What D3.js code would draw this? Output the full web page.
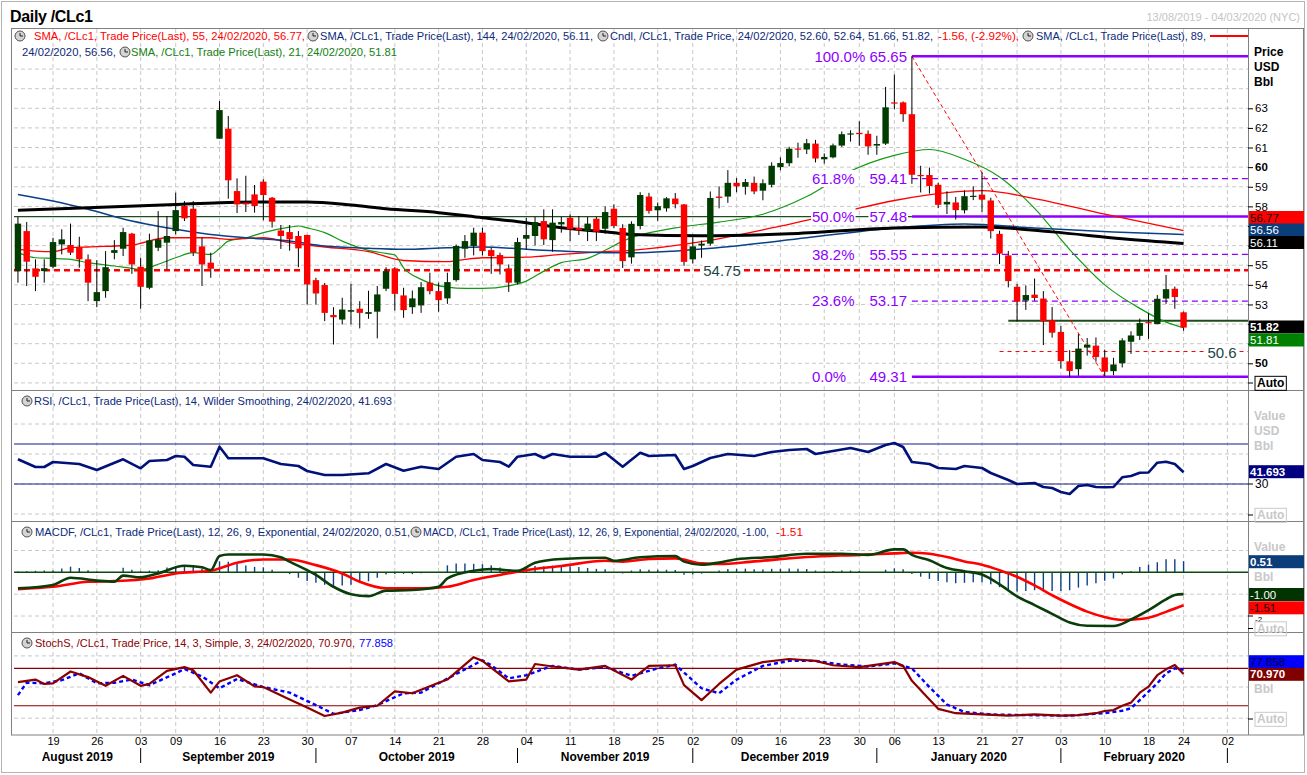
<!DOCTYPE html>
<html>
<head>
<meta charset="utf-8">
<script src="https://cdn.jsdelivr.net/npm/d3@7"></script>
<style>
body { margin: 0; background: #fff; }
svg text { font-family: "Liberation Sans", Arial, sans-serif; }
</style>
</head>
<body>
<svg id="chart" width="1307" height="775"></svg>
<script>
// trading calendar (CL front month, NYC)
var firstDay = "2019-08-13", lastDay = "2020-03-04";
var holidays = ["2019-09-02", "2019-11-28", "2019-12-25", "2020-01-01", "2020-01-20", "2020-02-17"];
var monthNames = ["August 2019", "September 2019", "October 2019", "November 2019", "December 2019", "January 2020", "February 2020"];

// daily candles [open, high, low, close], one row per trading day from 13/08/2019
var candles = [
  [54.70,57.46,54.11,57.12],[56.74,57.20,53.94,55.18],[54.84,55.30,53.68,54.41],[54.70,55.30,54.11,54.85],
  [54.92,56.40,54.85,56.18],[56.06,56.83,55.55,56.32],[56.03,57.12,55.52,55.64],[55.93,56.45,54.87,55.30],[55.30,55.55,53.17,54.11],
  [53.17,55.26,52.86,53.63],[53.68,55.72,53.34,54.90],[55.63,56.28,55.30,55.77],[55.84,56.91,55.47,56.69],[56.61,56.65,54.56,55.04],
  [54.92,55.38,52.78,53.90],[53.85,56.61,53.77,56.27],[55.89,57.76,55.72,56.32],[56.15,57.51,54.79,56.49],
  [56.74,58.70,56.57,57.81],[58.02,58.27,57.25,57.39],[57.88,58.27,55.47,55.64],[55.96,56.40,53.94,55.04],[55.13,55.64,54.36,54.82],
  [61.45,63.37,61.45,62.91],[61.96,62.61,58.39,59.33],[58.78,59.43,57.66,58.10],[58.19,59.56,57.71,58.10],[58.61,59.09,57.68,58.02],
  [59.26,59.38,57.29,58.58],[58.44,58.48,56.92,57.22],[56.77,57.05,55.83,56.49],[56.69,57.05,55.74,56.32],[56.49,56.74,54.90,55.86],
  [56.54,56.56,53.00,54.02],[54.24,54.36,53.00,53.56],[53.99,54.10,52.15,52.57],[52.46,52.86,50.96,52.35],[52.23,53.34,51.98,52.74],
  [52.63,54.05,51.98,52.71],[52.78,53.17,51.78,52.57],[52.52,53.70,52.27,52.61],[52.63,53.94,51.27,53.51],[53.80,54.90,53.68,54.70],
  [54.84,54.90,52.69,53.54],[53.46,53.85,52.32,52.71],[52.86,53.71,52.52,53.31],[52.95,54.14,52.57,53.88],[54.11,54.62,53.51,53.68],
  [53.68,54.11,52.63,53.22],[53.31,54.62,53.03,54.14],[54.24,56.06,54.16,55.98],[55.84,56.54,55.38,56.23],[55.98,56.91,55.50,56.66],
  [56.66,56.91,55.50,55.72],[55.77,55.89,54.56,55.47],[55.52,55.64,54.53,55.04],[54.84,55.04,53.64,54.11],[54.11,56.40,54.02,56.18],
  [56.35,57.42,55.81,56.54],[56.49,57.46,56.01,57.20],[57.25,57.85,56.03,56.32],[56.28,57.85,55.69,57.17],[57.08,57.46,56.66,57.20],
  [57.42,57.59,56.23,56.83],[56.91,57.51,56.54,56.78],[56.74,57.46,56.23,57.12],[57.37,57.46,56.23,56.71],[56.86,58.00,56.60,57.71],
  [57.88,58.10,56.90,57.00],[56.90,57.09,54.86,55.21],[55.40,57.24,55.08,57.11],[57.00,58.72,56.83,58.58],[58.50,58.69,57.63,57.77],
  [57.80,58.20,57.26,58.01],[57.90,58.47,57.73,58.41],[58.40,58.68,57.90,58.11],[58.10,58.12,54.97,55.17],
  [55.30,56.55,55.09,55.96],[56.00,56.26,55.38,56.10],[56.10,58.76,56.00,58.43],[58.50,59.02,57.90,58.43],[58.50,59.85,58.18,59.20],
  [59.20,59.45,58.72,59.02],[59.00,59.40,58.60,59.24],[59.20,59.52,58.62,58.76],[58.80,59.38,58.31,59.18],[59.10,60.25,58.97,60.07],
  [60.00,60.50,59.84,60.21],[60.20,61.04,60.04,60.94],[60.95,61.25,60.48,60.93],[60.90,61.44,60.67,61.22],[61.20,61.39,60.24,60.44],
  [60.40,60.70,60.18,60.52],[60.50,61.20,60.45,61.11],[61.10,61.82,61.03,61.68],[61.70,61.88,61.30,61.72],
  [61.75,62.34,61.09,61.68],[61.70,61.87,60.63,61.06],[61.10,61.60,60.63,61.18],[61.20,64.09,61.13,63.05],
  [63.30,64.72,62.95,63.27],[63.30,63.35,62.31,62.70],[62.70,65.65,59.15,59.61],[59.60,60.07,58.71,59.56],[59.60,59.98,58.65,59.04],
  [59.10,59.21,57.91,58.08],[58.10,58.77,57.61,58.23],[58.20,58.48,57.33,57.81],[57.80,58.82,57.64,58.52],[58.50,59.02,58.32,58.54],
  [58.60,59.73,57.72,58.34],[58.30,58.44,56.36,56.74],[56.60,56.76,55.06,55.59],[55.50,55.73,53.87,54.19],
  [53.90,54.05,52.13,53.14],[53.20,53.97,52.72,53.48],[53.50,54.32,53.19,53.33],[53.30,53.68,50.93,52.14],[52.20,52.87,51.31,51.56],
  [51.60,51.90,49.73,50.11],[50.10,50.67,49.31,49.61],[49.70,51.49,49.37,50.75],[50.80,51.29,50.39,50.95],[50.90,51.32,50.08,50.32],
  [50.30,50.70,49.34,49.57],[49.60,50.28,49.39,49.94],[50.00,51.28,49.79,51.17],[51.10,51.63,50.48,51.42],[51.40,52.28,51.19,52.05],
  [52.10,52.55,51.24,52.05],[52.00,53.48,51.99,53.29],[53.30,54.50,53.03,53.78],[53.80,53.91,52.78,53.38],
  [52.60,52.64,51.66,51.82]
];

// moving averages, read as [trading day index, value]
var sma144 = [[0,57.8],[8,57.93],[18,58.1],[23,58.19],[28,58.22],[33,58.22],[38,58.07],[42,57.88],[48,57.68],[53,57.42],[58,57.17],[62,56.91],[67,56.71],[70,56.57],[78,56.5],[88,56.6],[100,56.9],[110,56.95],[118,56.7],[126,56.35],[133,56.11]];
var sma89 = [[0,58.6],[4,58.27],[8,57.85],[13,57.25],[17,56.91],[22,56.57],[26,56.4],[31,56.23],[35,55.98],[40,55.86],[44,55.81],[49,55.89],[53,55.93],[58,55.81],[62,55.72],[67,55.64],[70,55.64],[80,55.9],[90,56.4],[100,56.9],[108,57.1],[116,56.9],[125,56.7],[133,56.56]];
var sma55 = [[0,55.81],[2,55.72],[4,55.69],[6,55.89],[8,55.93],[13,56.03],[17,56.4],[22,56.4],[24,56.32],[28,56.4],[31,56.15],[35,55.93],[40,55.69],[44,55.24],[49,55.18],[51,55.3],[53,55.38],[58,55.41],[62,55.55],[67,55.69],[70,55.76],[78,56.2],[86,56.9],[94,57.7],[100,58.3],[106,58.7],[110,58.8],[116,58.4],[124,57.6],[133,56.77]];
var sma21 = [[0,55.64],[2,55.38],[4,55.35],[6,55.3],[8,55.13],[11,54.96],[13,54.84],[14,54.79],[16,55.05],[18,55.38],[20,55.64],[22,55.55],[23,55.85],[24,56.23],[26,56.4],[28,56.66],[31,56.94],[32,57.0],[33,56.9],[35,56.66],[37,56.23],[40,55.76],[42,55.6],[43,55.52],[44,54.87],[46,54.28],[49,53.88],[51,53.82],[53,53.82],[56,53.95],[58,54.19],[60,54.7],[62,55.13],[65,55.35],[67,55.76],[69,56.23],[75,56.9],[80,57.2],[85,57.6],[90,58.5],[95,59.8],[100,60.6],[104,60.9],[108,60.4],[112,59.5],[116,57.9],[120,55.8],[124,54.0],[128,52.8],[131,52.1],[133,51.81]];

// fibonacci retracement of the 65.65 -> 49.31 move
var fibPct = ["100.0%", "61.8%", "50.0%", "38.2%", "23.6%", "0.0%"];
var fibVal = [65.65, 59.41, 57.48, 55.55, 53.17, 49.31];
var fibStart = 102;
var supportLevel = 54.75, lowLevel = 50.6, neckLevel = 52.17, pivotLevel = 57.48;
var trendLine = [[102, 65.65], [124, 49.31]];

// RSI 14
var rsi = [[0,54.7],[2,47],[3,47],[4,52],[7,50],[9,44],[12,54.7],[14,45.7],[15,53],[17,54],[18,58],[19,57.3],[20,49],[22,47.3],[23,67.3],[24,55.7],[28,55.7],[30,50],[32,48],[33,43],[35,39],[37,39],[40,40.7],[42,50],[44,43.3],[46,47.3],[48,45],[50,57.3],[52,60],[53,54],[55,52],[56,47.3],[57,57.3],[59,60],[60,56],[61,60],[63,57.3],[66,57.3],[67,61.3],[69,47.3],[71,61.3],[72,58],[75,59],[76,45],[77,48],[79,56],[81,60],[84,58],[86,62],[88,64],[90,65],[91,60],[93,63],[95,66],[97,62],[99,69],[100,71],[101,67],[102,52],[104,50],[105,46],[107,45],[108,48],[110,46],[111,41],[113,34],[114,30],[116,31],[117,27],[118,26],[119,22],[120,20],[121,28],[122,29],[123,27],[124,26.7],[125,27],[126,36.7],[127,38],[128,41.3],[129,41.5],[130,51.3],[131,52.3],[132,50],[133,41.693]];

// MACD 12,26,9
var macd = [[0,-0.73],[4,-0.58],[6,-0.25],[9,-0.38],[11,-0.43],[12,-0.15],[14,-0.23],[16,-0.05],[19,0.3],[21,0.23],[22,0.1],[23,0.75],[24,0.82],[28,0.82],[30,0.69],[31,0.49],[34,-0.12],[36,-0.66],[38,-1.0],[40,-1.09],[42,-0.84],[45,-0.81],[48,-0.66],[49,-0.28],[52,0.07],[54,0.15],[57,0.07],[59,0.44],[62,0.61],[67,0.67],[68,0.53],[71,0.69],[75,0.75],[76,0.49],[78,0.35],[80,0.45],[82,0.6],[86,0.7],[90,0.85],[94,0.85],[97,0.8],[100,1.05],[101,1.05],[102,0.8],[104,0.55],[106,0.2],[108,0.05],[110,-0.1],[112,-0.55],[114,-1.1],[116,-1.5],[118,-1.9],[120,-2.3],[122,-2.45],[125,-2.46],[127,-2.16],[129,-1.73],[131,-1.24],[132,-1.04],[133,-1.0]];
var signal = [[0,-0.77],[4,-0.66],[8,-0.43],[11,-0.4],[15,-0.28],[18,-0.05],[22,0.07],[25,0.44],[28,0.59],[31,0.59],[34,0.33],[37,-0.05],[39,-0.43],[42,-0.73],[46,-0.73],[49,-0.66],[52,-0.35],[55,-0.12],[58,0.1],[62,0.29],[67,0.53],[69,0.49],[72,0.61],[75,0.64],[78,0.41],[80,0.38],[84,0.5],[90,0.7],[96,0.8],[100,0.87],[102,0.9],[104,0.85],[106,0.7],[108,0.5],[110,0.35],[112,0.1],[114,-0.2],[116,-0.6],[118,-1.05],[120,-1.45],[122,-1.8],[124,-2.05],[126,-2.18],[128,-2.14],[129,-2.08],[131,-1.81],[133,-1.51]];
var macdHist = [0.04,0.05,0.07,0.08,0.08,0.18,0.26,0.2,0.09,0.04,-0.01,-0.03,0.21,0.12,0.05,0.08,0.1,0.22,0.29,0.3,0.24,0.18,0.03,0.5,0.49,0.39,0.31,0.25,0.23,0.12,0.01,-0.08,-0.25,-0.4,-0.48,-0.57,-0.61,-0.6,-0.57,-0.47,-0.41,-0.25,-0.1,-0.08,-0.07,-0.08,-0.04,-0.01,0,0.32,0.4,0.41,0.39,0.37,0.32,0.22,0.11,0.07,0.2,0.29,0.28,0.31,0.31,0.28,0.24,0.2,0.16,0.14,0.01,-0.05,0.08,0.14,0.12,0.12,0.12,0.11,-0.11,-0.1,-0.06,0.02,0.08,0.15,0.16,0.17,0.14,0.13,0.16,0.16,0.18,0.16,0.15,0.08,0.05,0.06,0.08,0.08,0.06,0.02,0,0.12,0.18,0.14,-0.08,-0.2,-0.3,-0.4,-0.45,-0.5,-0.48,-0.45,-0.45,-0.55,-0.68,-0.8,-0.88,-0.85,-0.82,-0.85,-0.85,-0.85,-0.82,-0.7,-0.6,-0.5,-0.38,-0.28,-0.1,0.05,0.25,0.35,0.46,0.6,0.6,0.51];

// Slow stochastic 14,3,3
var stochK = [[0,58],[2,62],[3,55],[4,56],[6,75],[8,66],[10,52],[12,68],[14,52],[15,55],[17,76],[19,82],[20,77],[22,41],[23,59],[25,69],[27,51],[28,50],[31,30],[33,17],[35,3.5],[37,9],[39,17],[41,20],[43,43],[45,40],[48,57],[49,62],[52,98],[53,92],[56,59],[58,62],[59,87],[61,83],[64,78],[67,84],[70,62],[72,84],[75,85],[76,53],[78,29],[80,55],[82,78],[85,90],[88,95],[91,92],[93,85],[96,82],[99,88],[100,90],[101,84],[102,60],[104,30],[105,15],[107,8],[110,6],[113,4],[116,6],[119,4],[121,5],[123,8],[124,11.6],[125,13],[126,20],[127,25],[128,41],[129,50.6],[130,69],[131,78.5],[132,85.4],[133,70.97]];
var stochD = [[0,37],[1,57],[3,56],[5,61],[7,72],[9,56],[11,57],[13,62],[15,53],[18,72],[19,79],[21,67],[23,48],[25,63],[28,50],[31,41],[34,21],[36,7],[39,13],[41,21],[44,40],[46,41],[48,56],[50,71],[53,93],[54,85],[56,64],[58,69],[61,84],[64,78],[67,82],[70,68],[73,80],[75,86],[78,48],[80,40],[82,62],[85,84],[88,92],[91,92],[94,86],[97,83],[100,88],[102,80],[104,50],[106,22],[108,10],[111,6],[115,5],[120,4],[124,8],[126,12],[127,16],[128,29],[129,42.5],[130,56],[131,72],[132,80],[133,77.858]];

// ---------------------------------------------------------------
var svg = d3.select("#chart");
var parse = d3.timeParse("%Y-%m-%d"), fmt = d3.timeFormat("%Y-%m-%d");
var days = d3.timeDay.range(parse(firstDay), d3.timeDay.offset(parse(lastDay), 1))
    .filter(d => d.getDay() > 0 && d.getDay() < 6 && holidays.indexOf(fmt(d)) < 0);

var L = 14, R = 1248;
var x = d3.scaleLinear().domain([-0.45, days.length - 1 + 0.35]).range([L, R]);

var panels = {
    price: { top: 29, bottom: 390 },
    rsi: { top: 390, bottom: 521 },
    macd: { top: 521, bottom: 632 },
    stoch: { top: 632, bottom: 735 }
};
var yP = d3.scaleLinear().domain([50, 63]).range([363.3, 108.3]);
var yR = d3.scaleLinear().domain([0, 90]).range([514, 424]);
var yM = d3.scaleLinear().domain([-2, 1]).range([616, 550.5]);
var yS = d3.scaleLinear().domain([0, 100]).range([718.2, 655.9]);

var navy = "#0c2a7a", purple = "#8c00ff", dkgreen = "#003c00";

// outer frame
svg.append("rect").attr("x", 1.5).attr("y", 1.5).attr("width", 1303).attr("height", 771)
    .attr("fill", "#fff").attr("stroke", "#b4b4b4");
svg.append("text").attr("x", 10).attr("y", 22).attr("font-size", 16).attr("font-weight", "bold")
    .attr("textLength", 83).text("Daily /CLc1");
svg.append("text").attr("x", 1300).attr("y", 21).attr("text-anchor", "end").attr("font-size", 11)
    .attr("fill", "#c4c4c4").text("13/08/2019 - 04/03/2020 (NYC)");

var defs = svg.append("defs");
Object.keys(panels).forEach(function(k) {
    defs.append("clipPath").attr("id", "clip-" + k).append("rect")
        .attr("x", L).attr("y", panels[k].top).attr("width", R - L).attr("height", panels[k].bottom - panels[k].top);
});

var weekStarts = d3.range(1, days.length).filter(i =>
    days[i].getDay() < days[i - 1].getDay() || d3.timeDay.count(days[i - 1], days[i]) > 3);
var monthStarts = d3.range(1, days.length).filter(i => days[i].getMonth() !== days[i - 1].getMonth());

// grids
var grid = svg.append("g").attr("stroke", "#c8c8c8").attr("stroke-dasharray", "4,3").attr("stroke-width", 1);
grid.selectAll("line.v").data(weekStarts).enter().append("line")
    .attr("x1", i => x(i)).attr("x2", i => x(i)).attr("y1", 29).attr("y2", 735);
function hgrid(vals, y, p) {
    grid.selectAll(null).data(vals.filter(v => y(v) > p.top + 1 && y(v) < p.bottom - 1)).enter().append("line")
        .attr("x1", L).attr("x2", R).attr("y1", d => y(d)).attr("y2", d => y(d));
}
hgrid(d3.range(49, 66), yP, panels.price);
hgrid([0, 30, 60, 90], yR, panels.rsi);
hgrid([-2, -1, 1], yM, panels.macd);
hgrid([0, 50, 100], yS, panels.stoch);

// panel borders
var frame = svg.append("g").attr("fill", "none").attr("stroke", "#808080");
frame.append("rect").attr("x", 11.5).attr("y", 28.5).attr("width", 1292).attr("height", 706.5);
[390, 521, 632].forEach(yy => frame.append("line").attr("x1", 11.5).attr("x2", 1303.5).attr("y1", yy + 0.5).attr("y2", yy + 0.5));
frame.append("line").attr("x1", R + 0.5).attr("x2", R + 0.5).attr("y1", 29).attr("y2", 735);

// ---------------- price panel ----------------
var gp = svg.append("g").attr("clip-path", "url(#clip-price)");
function smaLine(y) { return d3.line().x(d => x(d[0])).y(d => y(d[1])).curve(d3.curveMonotoneX); }

// horizontal levels
gp.append("line").attr("x1", L).attr("x2", x(fibStart)).attr("y1", yP(pivotLevel)).attr("y2", yP(pivotLevel))
    .attr("stroke", "#1d4d1d").attr("stroke-width", 1.2);
gp.append("line").attr("x1", L).attr("x2", R).attr("y1", yP(supportLevel)).attr("y2", yP(supportLevel))
    .attr("stroke", "#ff0000").attr("stroke-width", 2.5).attr("stroke-dasharray", "6,4");
gp.append("line").attr("x1", x(112)).attr("x2", R).attr("y1", yP(lowLevel)).attr("y2", yP(lowLevel))
    .attr("stroke", "#ff0000").attr("stroke-width", 1).attr("stroke-dasharray", "4,4");
gp.append("line").attr("x1", x(113)).attr("x2", R).attr("y1", yP(neckLevel)).attr("y2", yP(neckLevel))
    .attr("stroke", "#1d4d1d").attr("stroke-width", 2);

// fibonacci lines
fibVal.forEach(function(v, i) {
    var solid = (i === 0 || i === 2 || i === 5);
    gp.append("line").attr("x1", x(fibStart)).attr("x2", R).attr("y1", yP(v)).attr("y2", yP(v))
        .attr("stroke", purple).attr("stroke-width", solid ? 2.5 : 1.2)
        .attr("stroke-dasharray", solid ? null : "6,4");
});
gp.append("path").datum(trendLine).attr("d", d3.line().x(d => x(d[0])).y(d => yP(d[1])))
    .attr("fill", "none").attr("stroke", "#ff0000").attr("stroke-width", 1).attr("stroke-dasharray", "4,3");

// moving averages
gp.append("path").datum(sma21).attr("d", smaLine(yP)).attr("fill", "none").attr("stroke", "#139a13").attr("stroke-width", 1.2);
gp.append("path").datum(sma55).attr("d", smaLine(yP)).attr("fill", "none").attr("stroke", "#ff0000").attr("stroke-width", 1.3);
gp.append("path").datum(sma89).attr("d", smaLine(yP)).attr("fill", "none").attr("stroke", "#0b4088").attr("stroke-width", 1.5);
gp.append("path").datum(sma144).attr("d", smaLine(yP)).attr("fill", "none").attr("stroke", "#000").attr("stroke-width", 3);

// candles
var cg = gp.selectAll("g.candle").data(candles).enter().append("g");
cg.append("line").attr("x1", (d, i) => x(i)).attr("x2", (d, i) => x(i))
    .attr("y1", d => yP(d[1])).attr("y2", d => yP(d[2])).attr("stroke", "#000").attr("stroke-width", 1);
cg.append("rect").attr("x", (d, i) => x(i) - 3.2).attr("width", 6.4)
    .attr("y", d => yP(Math.max(d[0], d[3])))
    .attr("height", d => Math.max(1.2, Math.abs(yP(d[0]) - yP(d[3]))))
    .attr("fill", d => d[3] >= d[0] ? dkgreen : "#ff0000");

// level labels
function boxedText(g, tx, ty, str, color, size, anchor) {
    var t = g.append("text").attr("x", tx).attr("y", ty).attr("dy", "0.35em").attr("font-size", size)
        .attr("fill", color).attr("text-anchor", anchor || "start").text(str);
    var b = t.node().getBBox();
    g.insert("rect", "text").attr("x", b.x - 1).attr("y", b.y).attr("width", b.width + 2).attr("height", b.height).attr("fill", "#fff");
    return t;
}
var lab = svg.append("g");
fibVal.forEach(function(v, i) {
    var ty = yP(v);
    if (i === 0) {
        boxedText(lab, 907, ty, fibPct[i] + " " + v.toFixed(2), purple, 15, "end");
    } else {
        boxedText(lab, 812, ty, fibPct[i], purple, 15, "start");
        boxedText(lab, 907, ty, v.toFixed(2), purple, 15, "end");
    }
});
boxedText(lab, 722, yP(supportLevel) + 1, supportLevel.toFixed(2), "#1e4646", 15, "middle");
boxedText(lab, 1222, yP(lowLevel) + 1, String(lowLevel), "#1e4646", 15, "middle");

// ---------------- RSI ----------------
var gr = svg.append("g").attr("clip-path", "url(#clip-rsi)");
[70, 30].forEach(v => gr.append("line").attr("x1", L).attr("x2", R).attr("y1", yR(v)).attr("y2", yR(v))
    .attr("stroke", "#1a1a80").attr("stroke-width", 1.2));
gr.append("path").datum(rsi).attr("d", d3.line().x(d => x(d[0])).y(d => yR(d[1])))
    .attr("fill", "none").attr("stroke", "#00127a").attr("stroke-width", 2.6).attr("stroke-linejoin", "round");

// ---------------- MACD ----------------
var gm = svg.append("g").attr("clip-path", "url(#clip-macd)");
gm.selectAll("line.h").data(macdHist).enter().append("line")
    .attr("x1", (d, i) => x(i)).attr("x2", (d, i) => x(i)).attr("y1", yM(0)).attr("y2", d => yM(d))
    .attr("stroke", "#0b4088").attr("stroke-width", 1.4);
gm.append("line").attr("x1", L).attr("x2", R).attr("y1", yM(0)).attr("y2", yM(0)).attr("stroke", "#0b4a0b").attr("stroke-width", 1.5);
gm.append("path").datum(signal).attr("d", smaLine(yM)).attr("fill", "none").attr("stroke", "#ff0000").attr("stroke-width", 2.6);
gm.append("path").datum(macd).attr("d", smaLine(yM)).attr("fill", "none").attr("stroke", "#0b3d0b").attr("stroke-width", 2.6);

// ---------------- Stochastic ----------------
var gs = svg.append("g").attr("clip-path", "url(#clip-stoch)");
[80, 20].forEach(v => gs.append("line").attr("x1", L).attr("x2", R).attr("y1", yS(v)).attr("y2", yS(v))
    .attr("stroke", "#8b0000").attr("stroke-width", 1.2));
gs.append("path").datum(stochD).attr("d", d3.line().x(d => x(d[0])).y(d => yS(d[1])))
    .attr("fill", "none").attr("stroke", "#0000ff").attr("stroke-width", 2.4).attr("stroke-dasharray", "4,3");
gs.append("path").datum(stochK).attr("d", d3.line().x(d => x(d[0])).y(d => yS(d[1])))
    .attr("fill", "none").attr("stroke", "#8b0000").attr("stroke-width", 2.2).attr("stroke-linejoin", "round");

// ---------------- right axes ----------------
var ax = svg.append("g").attr("font-size", 12);
// 51, 52, 56 and 57 sit under the value boxes, so only their tick marks show
var hiddenTicks = [51, 52, 56, 57];
var priceAxis = d3.axisRight(yP).tickValues(d3.range(50, 64)).tickSize(5)
    .tickFormat(d => hiddenTicks.indexOf(d) < 0 ? d3.format("d")(d) : "");
ax.append("g").attr("transform", `translate(${R},0)`).call(priceAxis)
    .call(g => g.select(".domain").remove())
    .call(g => g.selectAll("text").attr("font-size", 11.5).attr("x", 7)
        .attr("font-weight", d => d % 10 === 0 ? "bold" : null));
["Price", "USD", "Bbl"].forEach((t, i) => ax.append("text").attr("x", 1254).attr("y", 56 + i * 15)
    .attr("font-weight", "bold").attr("font-size", 12).text(t));

function valueBox(cy, str, fill, color, bold) {
    ax.append("rect").attr("x", R + 1).attr("y", cy - 6.5).attr("width", 55).attr("height", 13).attr("fill", fill);
    ax.append("text").attr("x", R + 2).attr("y", cy).attr("dy", "0.36em").attr("font-size", 11.5)
        .attr("font-weight", bold ? "bold" : null).attr("fill", color).text(str);
}
function autoBox(cy, gray) {
    var t = ax.append("text").attr("x", 1257).attr("y", cy).attr("dy", "0.36em").attr("font-size", 12)
        .attr("font-weight", "bold").attr("fill", gray ? "#c8c8c8" : "#000").text("Auto");
    var b = t.node().getBBox();
    ax.append("rect").attr("x", b.x - 2).attr("y", b.y).attr("width", b.width + 4).attr("height", b.height)
        .attr("fill", "none").attr("stroke", gray ? "#c8c8c8" : "#000");
    ax.append("line").attr("x1", R).attr("x2", R + 5).attr("y1", cy).attr("y2", cy).attr("stroke", "#000");
}
valueBox(217.5, "56.77", "#ff0000", "#200000");
valueBox(230, "56.56", "#0b3d7a", "#fff");
valueBox(242.5, "56.11", "#000", "#fff");
valueBox(327, "51.82", "#000", "#fff", true);
valueBox(340, "51.81", "#008000", "#fff");
autoBox(383, false);

// RSI axis
["Value", "USD", "Bbl"].forEach((t, i) => ax.append("text").attr("x", 1254).attr("y", 420 + i * 15)
    .attr("font-weight", "bold").attr("fill", "#c8c8c8").text(t));
ax.append("line").attr("x1", R).attr("x2", R + 5).attr("y1", yR(30)).attr("y2", yR(30)).attr("stroke", "#000");
ax.append("text").attr("x", R + 7).attr("y", yR(30)).attr("dy", "0.36em").text("30");
valueBox(471.7, "41.693", "#000080", "#fff", true);
autoBox(515, true);

// MACD axis
ax.append("text").attr("x", 1254).attr("y", 551).attr("font-weight", "bold").attr("fill", "#c8c8c8").text("Value");
ax.append("text").attr("x", 1254).attr("y", 581).attr("font-weight", "bold").attr("fill", "#c8c8c8").text("Bbl");
ax.append("line").attr("x1", R).attr("x2", R + 5).attr("y1", yM(-2)).attr("y2", yM(-2)).attr("stroke", "#000");
valueBox(561.7, "0.51", "#0b3d7a", "#fff", true);
valueBox(594.5, "-1.00", "#003300", "#fff");
valueBox(607.8, "-1.51", "#ff0000", "#200000");
ax.append("text").attr("x", R + 7).attr("y", 621.5).attr("font-size", 8).text("-2");
autoBox(628.5, true);

// Stoch axis
ax.append("text").attr("x", 1254).attr("y", 693).attr("font-weight", "bold").attr("fill", "#c8c8c8").text("Bbl");
valueBox(661.7, "77.858", "#0000ff", "#000033");
valueBox(674.3, "70.970", "#800000", "#fff", true);
autoBox(719, true);

// ---------------- bottom axis ----------------
var xAxis = d3.axisBottom(x).tickValues(weekStarts).tickSize(0).tickPadding(4)
    .tickFormat(i => d3.timeFormat("%d")(days[i]));
svg.append("g").attr("transform", "translate(0,733)").call(xAxis)
    .call(g => g.select(".domain").remove())
    .call(g => g.selectAll("text").attr("font-size", 11).attr("fill", "#000"));
var bounds = [L].concat(monthStarts.map(i => x(i)));
var mg = svg.append("g");
monthStarts.forEach(i => mg.append("line").attr("x1", x(i)).attr("x2", x(i)).attr("y1", 748).attr("y2", 763).attr("stroke", "#000"));
monthNames.forEach((m, k) => mg.append("text").attr("x", (bounds[k] + bounds[k + 1]) / 2).attr("y", 761)
    .attr("text-anchor", "middle").attr("font-size", 12).attr("font-weight", "bold").text(m));

// ---------------- legends ----------------
function icon(cx, cy) {
    var g = svg.append("g");
    g.append("circle").attr("cx", cx).attr("cy", cy).attr("r", 5).attr("fill", "#d4d4d4").attr("stroke", "#505050");
    g.append("path").attr("d", `M${cx},${cy - 3}V${cy}H${cx + 3}`).attr("stroke", "#202020").attr("fill", "none");
}
function seg(tx, ty, str, color, len, size) {
    var t = svg.append("text").attr("x", tx).attr("y", ty).attr("font-size", size || 11).attr("fill", color).text(str);
    if (len) t.attr("textLength", len).attr("lengthAdjust", "spacingAndGlyphs");
    return t;
}
icon(20, 36);
seg(34, 40, "SMA, /CLc1, Trade Price(Last),  55, 24/02/2020, 56.77,", "#ff0000", 271);
icon(313, 36);
seg(320, 40, "SMA, /CLc1, Trade Price(Last),  144, 24/02/2020, 56.11,", navy, 273);
icon(603, 36);
seg(610, 40, "Cndl, /CLc1, Trade Price, 24/02/2020, 52.60, 52.64, 51.66, 51.82,", navy, 323);
seg(938, 40, "-1.56, (-2.92%),", "#ff0000", 81);
icon(1028, 36);
seg(1036, 40, "SMA, /CLc1, Trade Price(Last),  89,", navy, 170);
svg.append("line").attr("x1", 1210).attr("x2", 1248).attr("y1", 36).attr("y2", 36).attr("stroke", "#ff0000").attr("stroke-width", 2);
seg(22, 56, "24/02/2020, 56.56,", navy, 94);
icon(125, 52);
seg(131, 56, "SMA, /CLc1, Trade Price(Last),  21, 24/02/2020, 51.81", "#128012", 266);

icon(27, 401);
seg(34, 405, "RSI, /CLc1, Trade Price(Last),  14, Wilder Smoothing, 24/02/2020, 41.693", navy, 358);

icon(27, 532);
seg(35, 536, "MACDF, /CLc1, Trade Price(Last),  12, 26, 9, Exponential, 24/02/2020, 0.51,", navy, 375);
icon(416, 532);
seg(423, 536, "MACD, /CLc1, Trade Price(Last),  12, 26, 9, Exponential, 24/02/2020, -1.00,", navy, 346, 10.5);
seg(776, 536, "-1.51", "#ff0000", 27);

icon(27, 643);
seg(35, 647, "StochS, /CLc1, Trade Price,  14, 3, Simple, 3, 24/02/2020, 70.970,", "#8b0000", 320);
seg(359, 647, "77.858", "#0000ff", 34);
</script>
</body>
</html>
